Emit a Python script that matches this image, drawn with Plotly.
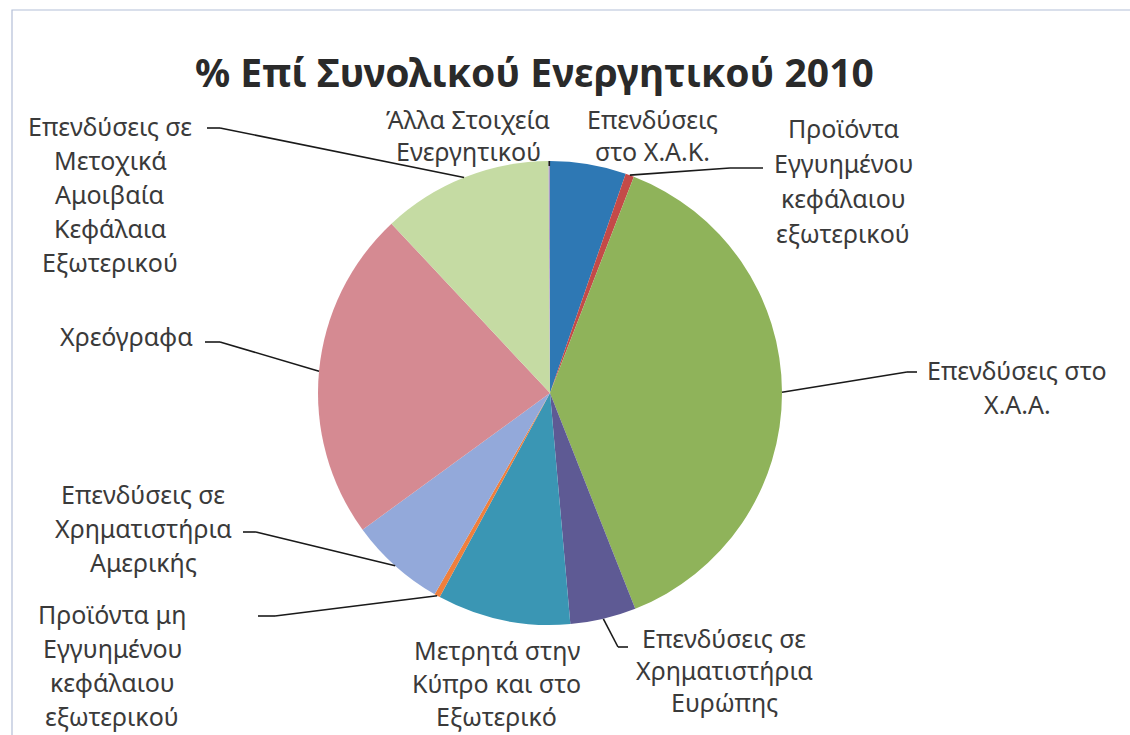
import math
import plotly.graph_objects as go

W, H = 1130, 735

# ---- data (% of total assets 2010) ----
categories = [
    "Επενδύσεις στο Χ.Α.Κ.",
    "Προϊόντα Εγγυημένου κεφάλαιου εξωτερικού",
    "Επενδύσεις στο Χ.Α.Α.",
    "Επενδύσεις σε Χρηματιστήρια Ευρώπης",
    "Μετρητά στην Κύπρο και στο Εξωτερικό",
    "Προϊόντα μη Εγγυημένου κεφάλαιου εξωτερικού",
    "Επενδύσεις σε Χρηματιστήρια Αμερικής",
    "Χρεόγραφα",
    "Επενδύσεις σε Μετοχικά Αμοιβαία Κεφάλαια Εξωτερικού",
    "Άλλα Στοιχεία Ενεργητικού",
]
values = [5.3, 0.6, 38.2, 4.6, 9.3, 0.4, 6.7, 23.1, 11.9, 0.1]
label_lines = [
    ["Επενδύσεις", "στο Χ.Α.Κ."],
    ["Προϊόντα", "Εγγυημένου", "κεφάλαιου", "εξωτερικού"],
    ["Επενδύσεις στο", "Χ.Α.Α."],
    ["Επενδύσεις σε", "Χρηματιστήρια", "Ευρώπης"],
    ["Μετρητά στην", "Κύπρο και στο", "Εξωτερικό"],
    ["Προϊόντα μη", "Εγγυημένου", "κεφάλαιου", "εξωτερικού"],
    ["Επενδύσεις σε", "Χρηματιστήρια", "Αμερικής"],
    ["Χρεόγραφα"],
    ["Επενδύσεις σε", "Μετοχικά", "Αμοιβαία", "Κεφάλαια", "Εξωτερικού"],
    ["Άλλα Στοιχεία", "Ενεργητικού"],
]
title_text = "% Επί Συνολικού Ενεργητικού 2010"

# ---- styles / layout ----
colors = ["#2E78B4", "#C44A48", "#8FB35A", "#5E5A94", "#3A96B4",
          "#F07F3C", "#93A9DA", "#D58A92", "#C5DBA3", "#A99BC5"]
CX, CY, R = 550, 393, 232            # pie centre / radius in px
# label block: (centre x px, first line y px, line pitch px)
label_pos = [
    (652, 119, 32), (843, 128, 35), (1017, 370, 34), (724, 638, 32),
    (497, 650, 33), (112, 614, 34), (143, 494, 34), (126, 336, 34),
    (110, 126, 34), (468, 119, 32),
]
# leader line label-side points (px): [elbow, end] or None
leader_pts = [
    None,
    [(730, 168), (763, 168)],
    [(907, 372), (917, 372)],
    [(618, 647), (628, 647)],
    None,
    [(275, 616), (258, 616)],
    [(256, 532), (243, 532)],
    [(220, 342), (205, 342)],
    [(220, 128), (207, 128)],
    [(None, 166)],
]


def px(x):
    return x / W


def py(y):
    return 1 - y / H


fig = go.Figure(go.Pie(
    labels=categories, values=values, sort=False, direction="clockwise",
    rotation=0, textinfo="none", hoverinfo="label+percent",
    marker=dict(colors=colors, line=dict(width=0)),
    domain=dict(x=[px(CX - R), px(CX + R)], y=[py(CY + R), py(CY - R)]),
    showlegend=False,
))

annotations = []
for lines, (lx, ly, pitch) in zip(label_lines, label_pos):
    for i, t in enumerate(lines):
        annotations.append(dict(
            x=px(lx), y=py(ly + i * pitch), xref="paper", yref="paper",
            text=t, showarrow=False, xanchor="center", yanchor="middle",
            font=dict(family="Noto Sans", size=25, color="#3A3A3A")))

annotations.append(dict(
    x=px(534), y=py(72), xref="paper", yref="paper", text="<b>%s</b>" % title_text,
    showarrow=False, xanchor="center", yanchor="middle",
    font=dict(family="Noto Sans", size=39, color="#2A2A2A")))

shapes = []
total = sum(values)
cum = 0.0
for v, pts in zip(values, leader_pts):
    mid = (cum + v / 2) / total * 2 * math.pi
    cum += v
    if pts is None:
        continue
    ax = CX + R * math.sin(mid)
    ay = CY - R * math.cos(mid)
    seq = [(ax, ay)] + [((ax if p[0] is None else p[0]), p[1]) for p in pts]
    for (x0, y0), (x1, y1) in zip(seq[:-1], seq[1:]):
        shapes.append(dict(type="line", xref="paper", yref="paper",
                           x0=px(x0), y0=py(y0), x1=px(x1), y1=py(y1),
                           line=dict(color="#1A1A1A", width=1.6)))

# chart-area border (partially visible in the scan)
shapes.append(dict(type="rect", xref="paper", yref="paper",
                   x0=px(12), y0=py(1000), x1=px(2000), y1=py(10),
                   line=dict(color="#B4BFD8", width=1.2)))

fig.update_layout(
    width=W, height=H, margin=dict(l=0, r=0, t=0, b=0),
    paper_bgcolor="white", plot_bgcolor="white",
    annotations=annotations, shapes=shapes,
)
fig.write_html("out.html", config={"displayModeBar": False},
               post_script="document.body.style.margin='0';"
                           "document.body.style.overflow='hidden';")
